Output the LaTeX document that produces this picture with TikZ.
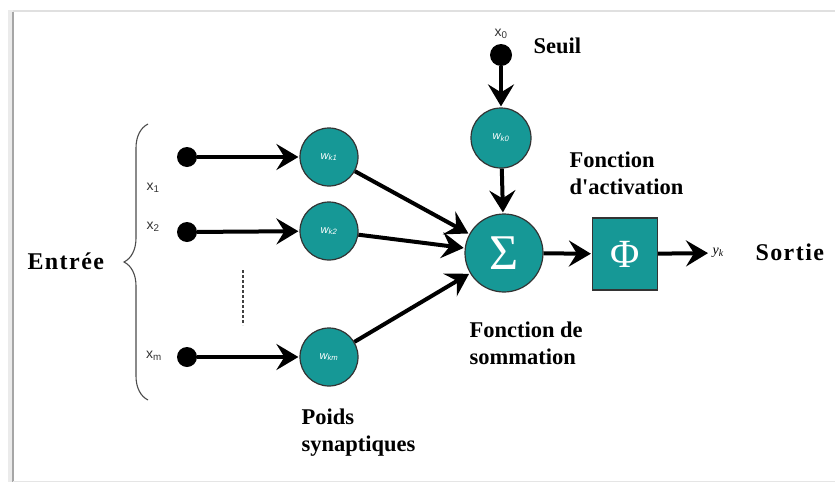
\documentclass[tikz,border=0pt]{standalone}
\usepackage{fontspec}
\setmainfont{Liberation Serif}
\setsansfont{Liberation Sans}
\usetikzlibrary{arrows.meta,decorations.pathreplacing}
\definecolor{teal1}{RGB}{22,152,150}
\tikzset{
  inp/.style={circle,fill=black,inner sep=0pt,minimum size=20pt},
  wcirc/.style={circle,draw=black!80,line width=1.2pt,fill=teal1,minimum size=58pt,inner sep=0pt,text=white,font=\sffamily\itshape\fontsize{11}{12}\selectfont},
  conn/.style={line width=4pt,-{Stealth[length=22pt,width=26pt,inset=8pt]},shorten >=1pt},
  lab/.style={font=\bfseries\fontsize{22.5}{27}\selectfont,align=left,anchor=west},
  wide/.style={font=\bfseries\fontsize{24}{27}\selectfont\addfontfeature{LetterSpace=6}},
  xl/.style={font=\sffamily\fontsize{14}{16}\selectfont,text=black!80}
}
\begin{document}
\begin{tikzpicture}[x=1pt,y=-1pt]
\useasboundingbox (0,0) rectangle (835,482);
\fill[white] (0,0) rectangle (835,482);
% frame
\fill[black!8] (8,10) rectangle (13,482);
\draw[black!35,line width=2pt] (13,12) -- (13,482);
\draw[black!12,line width=1.2pt] (13,11) -- (835,11);
\draw[black!10,line width=1pt] (13,481) -- (835,481);
% inputs
\node[inp] (i1) at (187,157) {};
\node[inp] (i2) at (187,232) {};
\node[inp] (im) at (187,357) {};
\node[inp,minimum size=22pt] (i0) at (501,55) {};
% weights
\node[wcirc] (w1) at (329,157) {w\textsubscript{k1}};
\node[wcirc] (w2) at (329,231) {w\textsubscript{k2}};
\node[wcirc] (wm) at (329,357) {w\textsubscript{km}};
\node[wcirc,minimum size=60pt] (w0) at (501,138) {w\textsubscript{k0}};
% sum
\node[wcirc,minimum size=78pt,font=\rmfamily\fontsize{50}{50}\selectfont] (s) at (504,253) {Σ};
% phi
\node[draw=black!80,line width=1.2pt,fill=teal1,minimum width=65pt,minimum height=72pt,inner sep=0pt,text=white,font=\fontsize{40}{40}\selectfont] (p) at (625,254) {Φ};
% output
\node[font=\itshape\fontsize{14}{16}\selectfont,anchor=west] (y) at (709,253) {y\textsubscript{k}};
\node[lab,wide] (so) at (752,252) {Sortie};
% connectors
\draw[conn] (i1) -- (w1);
\draw[conn] (i2) -- (w2);
\draw[conn] (im) -- (wm);
\draw[conn] (i0) -- (w0);
\draw[conn] (w0) -- (s);
\draw[conn] (w1) -- (s);
\draw[conn] (w2) -- (s);
\draw[conn] (wm) -- (s);
\draw[conn] (s) -- (p);
\draw[conn] (p) -- (y);
% labels
\node[xl] (x0) at (501,34) {x\textsubscript{0}};
\node[xl] (x1) at (153,188) {x\textsubscript{1}};
\node[xl] (x2) at (153,227) {x\textsubscript{2}};
\node[xl] (xm) at (154,356) {x\textsubscript{m}};
\node[lab] (seuil) at (530,46) {Seuil};
\node[lab] (act) at (566,173) {Fonction\\d\textquotesingle activation};
\node[lab] (som) at (466,343) {Fonction de\\sommation};
\node[lab] (poids) at (298,433) {Poids\\synaptiques};
\node[lab,wide] (ent) at (24,261) {Entrée};
% brace
\draw[black!70,line width=1.1pt,decoration={brace,amplitude=24pt,aspect=0.5},decorate] (148,400) -- (148,124);
% dotted line
\draw[black!75,line width=1.6pt,dash pattern=on 2.5pt off 2.5pt] (243,270) -- (243,325);
\end{tikzpicture}
\end{document}
